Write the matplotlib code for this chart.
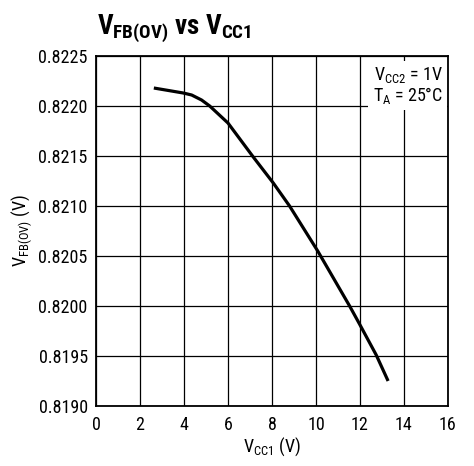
import matplotlib
matplotlib.use("Agg")
from matplotlib import pyplot as plt
import numpy as np

# curve
vcc1 = [2.63, 3.97, 4.35, 4.80, 5.17, 6.0, 7.15, 8.06, 8.80, 10.08, 11.53, 11.98, 12.74, 13.28]
vfb = [0.82218, 0.82213, 0.82211, 0.82206, 0.82200, 0.82183, 0.82149, 0.82123,
       0.82100, 0.82055, 0.82000, 0.81982, 0.81951, 0.81925]

xticks = np.arange(0, 17, 2)
yticks = [0.8190, 0.8195, 0.8200, 0.8205, 0.8210, 0.8215, 0.8220, 0.8225]

plt.rcParams["font.family"] = ["Roboto Condensed", "DejaVu Sans"]
plt.rcParams["mathtext.fontset"] = "custom"
plt.rcParams["mathtext.rm"] = "Roboto Condensed"
plt.rcParams["mathtext.bf"] = "Roboto Condensed:bold"

fig = plt.figure(figsize=(4.74, 4.66), dpi=100)
ax = fig.add_axes([0.2025, 0.1288, 0.7425, 0.751])

ax.plot(vcc1, vfb, color="black", lw=2.3, solid_capstyle="butt", solid_joinstyle="round")

ax.set_xlim(0, 16)
ax.set_ylim(0.8190, 0.8225)
ax.set_xticks(xticks)
ax.set_yticks(yticks)
ax.set_yticklabels([f"{v:.4f}" for v in yticks])
ax.grid(True, color="black", lw=0.9)
ax.tick_params(axis="y", length=0, labelsize=13, pad=6)
ax.tick_params(axis="x", length=0, labelsize=13, pad=7)
for s in ax.spines.values():
    s.set_linewidth(1.3)

ax.set_xlabel(r"$\mathregular{V_{CC1}}$ (V)", fontsize=13, labelpad=1)
ax.set_ylabel(r"$\mathregular{V_{FB(OV)}}$ (V)", fontsize=13, labelpad=3)

fig.text(0.205, 0.94, r"$\mathbf{V_{FB(OV)}}$ vs $\mathbf{V_{CC1}}$",
         fontsize=19.5, fontweight="bold", ha="left", va="center")

ax.text(0.985, 0.975, "$\\mathregular{V_{CC2}}$ = 1V\n$\\mathregular{T_A}$ = 25°C",
        transform=ax.transAxes, ha="right", va="top", fontsize=13, linespacing=1.0,
        bbox=dict(facecolor="white", edgecolor="none", pad=3))

fig.savefig("out.png", dpi=100)
